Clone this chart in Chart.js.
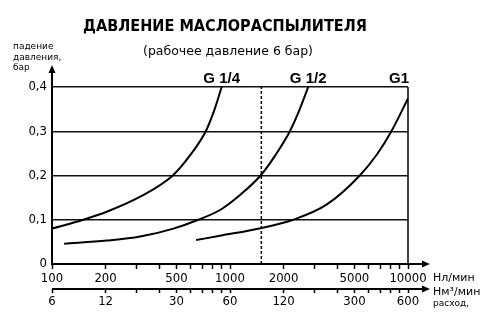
<!DOCTYPE html>
<html>
<head>
<meta charset="utf-8">
<script src="https://cdn.jsdelivr.net/npm/chart.js@4.4.0/dist/chart.umd.min.js"></script>
<style>
body { margin: 0; background: #fff; }
</style>
</head>
<body>
<canvas id="chart" width="500" height="335"></canvas>
<script>
// flow (Нл/мин) and pressure drop (бар)
let flowG14 = [100, 150, 203, 313, 477, 600, 731, 820, 898];
let dropG14 = [0.080, 0.100, 0.118, 0.152, 0.200, 0.247, 0.300, 0.350, 0.400];
let flowG12 = [117, 203, 313, 481, 664, 879, 1138, 1486, 1800, 2170, 2450, 2750];
let dropG12 = [0.046, 0.053, 0.062, 0.080, 0.100, 0.122, 0.156, 0.200, 0.246, 0.300, 0.347, 0.400];
let flowG1 = [645, 879, 1486, 2265, 3485, 5360, 6700, 8070, 10000];
let dropG1 = [0.054, 0.064, 0.081, 0.100, 0.134, 0.200, 0.248, 0.300, 0.374];
let seriesNames = ["G 1/4", "G 1/2", "G1"];
let markerFlow = 1500;

let flowTicks = [100, 200, 300, 400, 500, 600, 700, 800, 900, 1000, 2000, 3000, 4000, 5000, 6000, 7000, 8000, 9000, 10000];
let flowLabels = [100, 200, 500, 1000, 2000, 5000, 10000];
let volTicks = [6, 12, 18, 24, 30, 36, 42, 48, 54, 60, 120, 180, 240, 300, 360, 420, 480, 540, 600];
let volLabels = [6, 12, 30, 60, 120, 300, 600];
let pressureTicks = [0, 0.1, 0.2, 0.3, 0.4];

const tickFont = { family: "'Liberation Sans Narrow', 'DejaVu Sans Condensed', sans-serif", size: 13 };

function pts(xs, ys) {
    return xs.map((x, i) => ({ x: x, y: ys[i] }));
}

function curve(label, xs, ys) {
    return {
        label: label,
        data: pts(xs, ys),
        borderColor: "#000",
        borderWidth: 2,
        pointRadius: 0,
        cubicInterpolationMode: "monotone",
        fill: false
    };
}

function arrow(ctx, x, y, dir) {
    ctx.beginPath();
    if (dir === "up") {
        ctx.moveTo(x, y);
        ctx.lineTo(x - 3.5, y + 8);
        ctx.lineTo(x + 3.5, y + 8);
    } else {
        ctx.moveTo(x, y);
        ctx.lineTo(x - 8, y - 3.5);
        ctx.lineTo(x - 8, y + 3.5);
    }
    ctx.closePath();
    ctx.fill();
}

const decor = {
    id: "decor",
    afterDraw(chart) {
        const ctx = chart.ctx;
        const a = chart.chartArea;
        const x = chart.scales.x;
        const x2 = chart.scales.x2;
        ctx.save();
        ctx.strokeStyle = "#000";
        ctx.fillStyle = "#000";

        // right border at 10000
        let xr = x.getPixelForValue(10000);
        ctx.lineWidth = 1.5;
        ctx.beginPath();
        ctx.moveTo(xr, a.top);
        ctx.lineTo(xr, a.bottom);
        ctx.stroke();

        // axes with arrows
        ctx.lineWidth = 2;
        let tipX = 430;
        ctx.beginPath();
        ctx.moveTo(a.left, a.bottom);
        ctx.lineTo(a.left, 70);
        ctx.moveTo(a.left - 1, a.bottom);
        ctx.lineTo(tipX - 4, a.bottom);
        ctx.moveTo(a.left, x2.top);
        ctx.lineTo(tipX - 4, x2.top);
        ctx.stroke();
        arrow(ctx, a.left, 65, "up");
        arrow(ctx, tipX, a.bottom, "right");
        arrow(ctx, tipX, x2.top, "right");

        // titles
        ctx.textAlign = "center";
        ctx.textBaseline = "middle";
        ctx.font = "bold 16px 'DejaVu Sans', sans-serif";
        ctx.fillText("ДАВЛЕНИЕ МАСЛОРАСПЫЛИТЕЛЯ", 225, 27, 284);
        ctx.font = "13px 'DejaVu Sans', sans-serif";
        ctx.fillText("(рабочее давление 6 бар)", 228, 52, 170);

        // y axis label
        ctx.textAlign = "left";
        ctx.font = "9px 'DejaVu Sans', sans-serif";
        ctx.fillText("падение", 13, 47);
        ctx.fillText("давления,", 13, 58);
        ctx.fillText("бар", 13, 68);

        // units
        ctx.font = "11px 'DejaVu Sans', sans-serif";
        ctx.fillText("Нл/мин", 433, 278);
        ctx.fillText("Нм³/мин", 433, 292);
        ctx.font = "9px 'DejaVu Sans', sans-serif";
        ctx.fillText("расход,", 433, 304);

        // curve labels at the top end of each curve
        ctx.font = "bold 15px 'Liberation Sans', Arial, sans-serif";
        ctx.textBaseline = "alphabetic";
        ctx.textAlign = "center";
        [flowG14, flowG12, flowG1].forEach((xs, i) => {
            let px = x.getPixelForValue(xs[xs.length - 1]);
            let w = ctx.measureText(seriesNames[i]).width;
            px = Math.min(px, a.right - w / 2 + 1);
            ctx.fillText(seriesNames[i], px, 83);
        });
        ctx.restore();
    }
};

new Chart(document.getElementById("chart"), {
    type: "line",
    data: {
        datasets: [
            curve(seriesNames[0], flowG14, dropG14),
            curve(seriesNames[1], flowG12, dropG12),
            curve(seriesNames[2], flowG1, dropG1),
            {
                label: "marker",
                data: [{ x: markerFlow, y: 0 }, { x: markerFlow, y: 0.4 }],
                borderColor: "#000",
                borderWidth: 1.5,
                borderDash: [3, 2],
                pointRadius: 0
            }
        ]
    },
    options: {
        responsive: false,
        animation: false,
        layout: { padding: { top: 87, right: 92, bottom: 16, left: 0 } },
        plugins: { legend: { display: false }, tooltip: { enabled: false } },
        scales: {
            x: {
                type: "logarithmic",
                position: "bottom",
                min: 100,
                max: 10000,
                afterBuildTicks: s => { s.ticks = flowTicks.map(v => ({ value: v })); },
                afterFit: s => { s.height = 25; },
                ticks: {
                    autoSkip: false,
                    maxRotation: 0,
                    padding: 2,
                    color: "#000",
                    font: tickFont,
                    callback: v => flowLabels.includes(v) ? String(v) : ""
                },
                grid: { drawOnChartArea: false, tickLength: 5, tickColor: "#000", tickWidth: 1.5 },
                border: { display: false }
            },
            x2: {
                type: "logarithmic",
                position: "bottom",
                min: 6,
                max: 600,
                afterBuildTicks: s => { s.ticks = volTicks.map(v => ({ value: v })); },
                afterFit: s => { s.height = 30; },
                ticks: {
                    autoSkip: false,
                    maxRotation: 0,
                    padding: 1,
                    color: "#000",
                    font: tickFont,
                    callback: v => volLabels.includes(v) ? String(v) : ""
                },
                grid: { drawOnChartArea: false, tickLength: 4, tickColor: "#000", tickWidth: 1.5 },
                border: { display: false }
            },
            y: {
                type: "linear",
                min: 0,
                max: 0.4,
                afterBuildTicks: s => { s.ticks = pressureTicks.map(v => ({ value: v })); },
                afterFit: s => { s.width = 52; },
                ticks: {
                    padding: 5,
                    color: "#000",
                    font: tickFont,
                    callback: v => v === 0 ? "0" : v.toFixed(1).replace(".", ",")
                },
                grid: { drawTicks: false, color: "#111", lineWidth: 1.5 },
                border: { display: false }
            }
        }
    },
    plugins: [decor]
});
</script>
</body>
</html>
